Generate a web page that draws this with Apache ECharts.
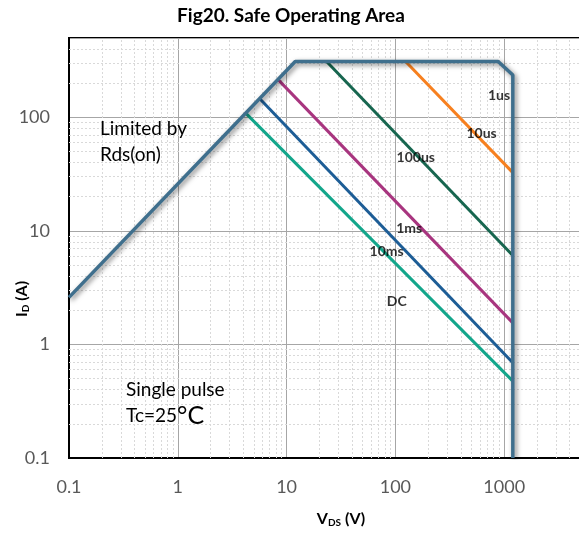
<!DOCTYPE html>
<html>
<head>
<meta charset="utf-8">
<script src="https://cdn.jsdelivr.net/npm/echarts@6/dist/echarts.min.js"></script>
<style>
  html, body { margin: 0; padding: 0; background: #fff; }
  #chart { width: 579px; height: 538px; }
</style>
</head>
<body>
<div id="chart"></div>
<script>
// SOA outline: Rds(on) limit, current limit, power corner, BVdss wall
const soaV = [0.1, 12, 880, 1200, 1200];
const soaI = [2.6, 310, 310, 236, 0.1];

// pulse-width lines, each a straight segment in log-log space
const pulseNames = ['10us', '100us', '1ms', '10ms', 'DC'];
const pulseColors = ['#f7801f', '#17664f', '#a8357f', '#1d5d96', '#13a68b'];
const pulseStartV = [124, 23.3, 8.4, 5.7, 4.25];
const pulseStartI = [310, 310, 214, 145, 108];
const pulseEndV = [1200, 1200, 1200, 1200, 1200];
const pulseEndI = [32.6, 6.07, 1.55, 0.69, 0.475];

// curve labels, placed in data coordinates
const labelText = ['1us', '10us', '100us', '1ms', '10ms', 'DC'];
const labelV = [897, 620, 154, 134, 83, 103];
const labelI = [157, 72.6, 44.7, 10.6, 6.65, 2.37];

// minor grid positions (2..9 per decade)
const decadesX = [0.1, 1, 10, 100, 1000];
const decadesY = [0.1, 1, 10, 100];
const minorSteps = [2, 3, 4, 5, 6, 7, 8, 9];

const FONT = 'Lato, "Open Sans", sans-serif';

const minorX = [];
decadesX.forEach(d => minorSteps.forEach(m => minorX.push({ xAxis: +(d * m).toPrecision(3) })));
const minorY = [];
decadesY.forEach(d => minorSteps.forEach(m => {
  const v = +(d * m).toPrecision(3);
  if (v < 500) minorY.push({ yAxis: v });
}));

const titleRich = {
  b: { fontFamily: FONT, fontWeight: 'bold', fontSize: 16, color: '#000' },
  s: { fontFamily: FONT, fontWeight: 'bold', fontSize: 10, color: '#000', padding: [8, 0, 0, 0] }
};

const series = [];

// invisible carrier for the minor dotted grid
series.push({
  type: 'line',
  data: [],
  silent: true,
  z: 1,
  markLine: {
    z: 1,
    silent: true,
    symbol: 'none',
    label: { show: false },
    animation: false,
    lineStyle: { color: '#d9d9d9', width: 1, type: [2, 2] },
    data: minorX.concat(minorY)
  }
});

pulseNames.forEach((name, k) => {
  series.push({
    name: name,
    type: 'line',
    symbol: 'none',
    z: 3,
    lineStyle: { color: pulseColors[k], width: 3 },
    data: [[pulseStartV[k], pulseStartI[k]], [pulseEndV[k], pulseEndI[k]]]
  });
});

series.push({
  name: 'SOA',
  type: 'line',
  symbol: 'none',
  z: 5,
  lineStyle: {
    color: '#3f6f8d', width: 3.5,
    shadowColor: 'rgba(0,0,0,0.5)', shadowBlur: 5, shadowOffsetX: 2, shadowOffsetY: 2
  },
  data: soaV.map((v, i) => [v, soaI[i]])
});

series.push({
  type: 'scatter',
  symbolSize: 0,
  z: 6,
  silent: true,
  label: {
    show: true,
    position: 'inside',
    formatter: p => labelText[p.dataIndex],
    fontFamily: FONT, fontWeight: 'bold', fontSize: 14, color: '#000'
  },
  data: labelV.map((v, i) => [v, labelI[i]])
});

const chart = echarts.init(document.getElementById('chart'), null, { renderer: 'canvas' });
chart.setOption({
  animation: false,
  backgroundColor: '#fff',
  textStyle: { fontFamily: FONT },
  title: {
    text: 'Fig20. Safe Operating Area',
    left: 286, top: 1, textAlign: 'center',
    textStyle: { fontFamily: FONT, fontWeight: 'bold', fontSize: 19, color: '#000' }
  },
  grid: {
    left: 69, right: -34, top: 38, bottom: 80,
    outerBoundsMode: 'none',
    show: true, borderColor: '#000', borderWidth: 2, containLabel: false
  },
  xAxis: {
    type: 'log', logBase: 10, min: 0.1, max: 10000,
    axisLine: { show: true, lineStyle: { color: '#000', width: 2 } },
    axisTick: { show: false },
    splitLine: { show: true, lineStyle: { color: '#a6a6a6', width: 1 } },
    axisLabel: {
      margin: 20, fontSize: 18, color: '#595959', fontFamily: FONT,
      formatter: v => String(+v.toPrecision(3))
    },
    name: '{b|V}{s|DS}{b| (V)}',
    nameLocation: 'middle', nameGap: 52, nameMoveOverlap: false,
    nameTextStyle: { rich: titleRich }
  },
  yAxis: {
    type: 'log', logBase: 10, min: 0.1, max: 500,
    axisLine: { show: true, lineStyle: { color: '#000', width: 2 } },
    axisTick: { show: false },
    splitLine: { show: true, lineStyle: { color: '#a6a6a6', width: 1 } },
    axisLabel: {
      margin: 19, fontSize: 18, color: '#595959', fontFamily: FONT,
      showMaxLabel: false,
      formatter: v => String(+v.toPrecision(3))
    }
  },
  graphic: [
    {
      type: 'text', x: 22, y: 299, rotation: Math.PI / 2, z: 10,
      style: {
        text: '{b|I}{s|D}{b| (A)}', rich: titleRich,
        align: 'center', verticalAlign: 'middle'
      }
    },
    {
      type: 'text', left: 100, top: 116, z: 10,
      style: { text: 'Limited by\nRds(on)', font: '19px ' + FONT, fill: '#000', lineHeight: 26 }
    },
    {
      type: 'text', left: 126, top: 380, z: 10,
      style: {
        text: '{a|Single pulse}\n{a|Tc=25}{c|°C}',
        rich: {
          a: { fontFamily: FONT, fontSize: 19, color: '#000', lineHeight: 26 },
          c: { fontFamily: FONT, fontSize: 25, color: '#000', lineHeight: 26 }
        }
      }
    }
  ],
  series: series
});
</script>
</body>
</html>
